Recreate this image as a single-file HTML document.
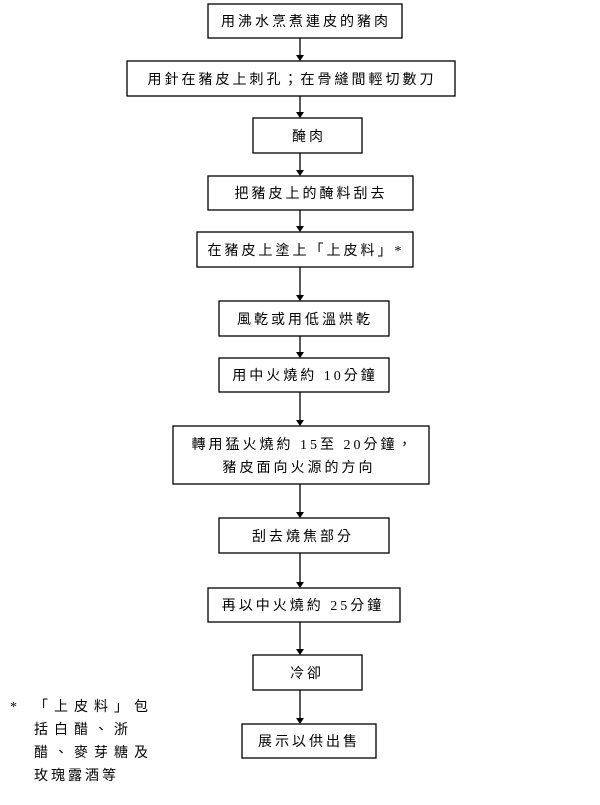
<!DOCTYPE html>
<html><head><meta charset="utf-8"><style>
body{margin:0;background:#fff;width:600px;height:800px;overflow:hidden}
svg text{font-family:"Liberation Serif","Noto Sans CJK TC",sans-serif;font-size:14px;fill:#000;letter-spacing:3px}
</style></head><body>
<svg width="600" height="800" viewBox="0 0 600 800" xmlns="http://www.w3.org/2000/svg">
<g fill="#fff" stroke="#000" stroke-width="1.3">
<rect x="208" y="4" width="194" height="34"/>
<rect x="127" y="61" width="328" height="35"/>
<rect x="253" y="118" width="109" height="35"/>
<rect x="208" y="176" width="205" height="34"/>
<rect x="197" y="232" width="216" height="35"/>
<rect x="219" y="301" width="170" height="35"/>
<rect x="219" y="358" width="170" height="34"/>
<rect x="173" y="426" width="256" height="58"/>
<rect x="219" y="518" width="170" height="35"/>
<rect x="208" y="588" width="192" height="34"/>
<rect x="253" y="655" width="109" height="35"/>
<rect x="242" y="724" width="134" height="34"/>
</g>
<g stroke="#000" stroke-width="1.3">
<line x1="300" y1="38" x2="300" y2="55"/>
<line x1="300" y1="96" x2="300" y2="112"/>
<line x1="300" y1="153" x2="300" y2="170"/>
<line x1="300" y1="210" x2="300" y2="226"/>
<line x1="300" y1="267" x2="300" y2="295"/>
<line x1="300" y1="336" x2="300" y2="352"/>
<line x1="300" y1="392" x2="300" y2="420"/>
<line x1="300" y1="484" x2="300" y2="512"/>
<line x1="300" y1="553" x2="300" y2="582"/>
<line x1="300" y1="622" x2="300" y2="649"/>
<line x1="300" y1="690" x2="300" y2="718"/>
</g>
<g fill="#000">
<polygon points="296,55 304,55 300,61"/>
<polygon points="296,112 304,112 300,118"/>
<polygon points="296,170 304,170 300,176"/>
<polygon points="296,226 304,226 300,232"/>
<polygon points="296,295 304,295 300,301"/>
<polygon points="296,352 304,352 300,358"/>
<polygon points="296,420 304,420 300,426"/>
<polygon points="296,512 304,512 300,518"/>
<polygon points="296,582 304,582 300,588"/>
<polygon points="296,649 304,649 300,655"/>
<polygon points="296,718 304,718 300,724"/>
</g>
<g text-anchor="middle">
<text x="306" y="26">用沸水烹煮連皮的豬肉</text>
<text x="292" y="84">用針在豬皮上刺孔；在骨縫間輕切數刀</text>
<text x="309" y="141">醃肉</text>
<text x="311" y="198">把豬皮上的醃料刮去</text>
<text x="306" y="255">在豬皮上塗上「上皮料」*</text>
<text x="305" y="324">風乾或用低溫烘乾</text>
<text x="305" y="380">用中火燒約 10分鐘</text>
<text x="303" y="449">轉用猛火燒約 15至 20分鐘，</text>
<text x="299" y="472">豬皮面向火源的方向</text>
<text x="303" y="541">刮去燒焦部分</text>
<text x="303" y="610">再以中火燒約 25分鐘</text>
<text x="307" y="678">冷卻</text>
<text x="309" y="746">展示以供出售</text>
</g>
<text x="10" y="711">*</text>
<text x="34" y="711" style="letter-spacing:6px">「上皮料」包</text>
<text x="34" y="734" style="letter-spacing:6px">括白醋、浙</text>
<text x="34" y="757" style="letter-spacing:6px">醋、麥芽糖及</text>
<text x="34" y="780" style="letter-spacing:3px">玫瑰露酒等</text>
</svg>
</body></html>
